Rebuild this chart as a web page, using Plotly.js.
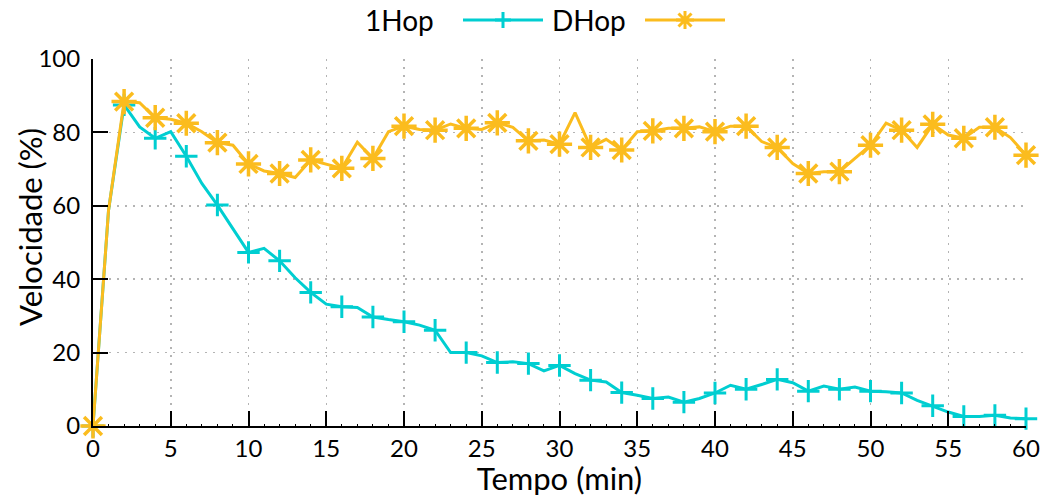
<!DOCTYPE html>
<html>
<head>
<meta charset="utf-8">
<script src="https://cdn.plot.ly/plotly-3.0.1.min.js"></script>
<style>html,body{margin:0;padding:0;background:#fff;}</style>
</head>
<body>
<div id="chart" style="width:1043px;height:497px;"></div>
<script>
// Time in minutes
const minutes = [0,1,2,3,4,5,6,7,8,9,10,11,12,13,14,15,16,17,18,19,20,21,22,23,24,25,26,27,28,29,30,31,32,33,34,35,36,37,38,39,40,41,42,43,44,45,46,47,48,49,50,51,52,53,54,55,56,57,58,59,60];
// 1Hop velocity (%)
const hop1 = [0,58.8,87.5,81.5,78.4,80.2,73.5,66.1,60.2,53.8,47.3,48.4,45.0,40.4,36.4,33.2,32.5,32.3,29.7,29.0,28.4,27.5,26.1,20.0,20.0,19.1,17.3,17.5,17.0,15.0,16.5,14.3,12.5,12.0,9.1,8.4,7.5,7.9,6.5,7.5,9.0,11.1,10.0,11.3,12.7,11.8,9.5,10.9,10.0,10.6,9.5,9.3,9.0,7.0,5.5,3.8,2.6,2.6,2.9,2.2,2.0];
// DHop velocity (%)
const dhop = [0,58.8,88.4,88.1,84.0,83.6,82.5,80.2,77.2,76.5,71.4,69.5,68.8,67.7,72.5,71.3,70.2,77.3,72.9,80.2,81.7,80.8,80.6,82.3,81.1,80.8,82.6,81.4,77.7,77.9,76.8,85.4,75.9,78.1,75.2,80.2,80.4,81.1,81.1,81.5,80.2,81.7,81.7,77.5,75.9,71.5,68.8,69.3,69.3,72.9,76.5,82.5,80.6,75.9,82.2,79.3,78.4,81.4,81.4,78.6,73.8];
const seriesNames = ["1Hop", "DHop"];
const xTicks = [0,5,10,15,20,25,30,35,40,45,50,55,60];
const yTicks = [0,20,40,60,80,100];
const xTitle = "Tempo (min)";
const yTitle = "Velocidade (%)";

const cyan = "#00CED1";
const gold = "#FBBC1E";
const FONT = "Lato, 'Open Sans', sans-serif";

// markers are drawn on every second sample only
const markedX = minutes.filter((m, i) => i % 2 === 0);
const markedHop1 = hop1.filter((v, i) => i % 2 === 0);
const markedDhop = dhop.filter((v, i) => i % 2 === 0);

const traces = [
  {x: minutes, y: hop1, name: seriesNames[0], type: "scatter", mode: "lines",
   line: {color: cyan, width: 3}, showlegend: false},
  {x: markedX, y: markedHop1, name: seriesNames[0], type: "scatter", mode: "markers",
   marker: {symbol: "cross-thin-open", size: 16, color: cyan, opacity: 1, line: {color: cyan, width: 3}},
   cliponaxis: false, showlegend: false},
  {x: minutes, y: dhop, name: seriesNames[1], type: "scatter", mode: "lines",
   line: {color: gold, width: 3}, showlegend: false},
  {x: markedX, y: markedDhop, name: seriesNames[1], type: "scatter", mode: "markers",
   marker: {symbol: "asterisk-open", size: 21, color: gold, opacity: 1, line: {color: gold, width: 3.5}},
   cliponaxis: false, showlegend: false}
];

// Plot area in pixels
const L = 93, R = 1026, T = 59, B = 426;
const px = v => (v - L) / (R - L);
const py = v => (B - v) / (B - T);

const legY = 20;
const shapes = [
  {type: "line", xref: "paper", yref: "paper", x0: px(463), x1: px(543), y0: py(legY), y1: py(legY), line: {color: cyan, width: 3}},
  {type: "path", xref: "paper", yref: "paper", xsizemode: "pixel", ysizemode: "pixel", xanchor: px(503), yanchor: py(legY),
   path: "M-8,0H8M0,-8V8", line: {color: cyan, width: 3}},
  {type: "line", xref: "paper", yref: "paper", x0: px(645), x1: px(725), y0: py(legY), y1: py(legY), line: {color: gold, width: 3}},
  {type: "path", xref: "paper", yref: "paper", xsizemode: "pixel", ysizemode: "pixel", xanchor: px(685), yanchor: py(legY),
   path: "M-9,0H9M0,-9V9M-6.5,-6.5L6.5,6.5M-6.5,6.5L6.5,-6.5", line: {color: gold, width: 3}}
];

const annotations = [
  {text: seriesNames[0], xref: "paper", yref: "paper", x: px(436), y: py(legY), xanchor: "right", yanchor: "middle", showarrow: false,
   font: {family: FONT, size: 28, color: "#000"}},
  {text: seriesNames[1], xref: "paper", yref: "paper", x: px(628), y: py(legY), xanchor: "right", yanchor: "middle", showarrow: false,
   font: {family: FONT, size: 28, color: "#000"}},
  {text: yTitle, xref: "paper", yref: "paper", x: px(30), y: py(227), xanchor: "center", yanchor: "middle", showarrow: false,
   textangle: -90, font: {family: FONT, size: 31, color: "#000"}}
];

const gridStyle = {showgrid: true, gridcolor: "#b4b4b4", griddash: "1.5px,6.5px", gridwidth: 1.5};

const layout = {
  width: 1043, height: 497,
  margin: {l: L, r: 1043 - R, t: T, b: 497 - B},
  paper_bgcolor: "#fff", plot_bgcolor: "#fff",
  font: {family: FONT, size: 24, color: "#000"},
  showlegend: false,
  xaxis: Object.assign({
    range: [0, 60], tickvals: xTicks, ticktext: xTicks.map(String),
    ticks: "inside", ticklen: 15, tickwidth: 2, tickcolor: "#000",
    showline: true, linecolor: "#000", linewidth: 2, mirror: false,
    zeroline: false, tickfont: {family: FONT, size: 24, color: "#000"},
    ticklabelstandoff: 0,
    minor: {dtick: 1, ticks: "inside", ticklen: 2, tickwidth: 1, tickcolor: "#000", showgrid: false},
    title: {text: xTitle, font: {family: FONT, size: 31, color: "#000"}, standoff: 3},
    fixedrange: true
  }, gridStyle),
  yaxis: Object.assign({
    range: [0, 100], tickvals: yTicks, ticktext: yTicks.map(String),
    ticks: "inside", ticklen: 15, tickwidth: 2, tickcolor: "#000",
    showline: true, linecolor: "#000", linewidth: 2, mirror: false,
    zeroline: false, tickfont: {family: FONT, size: 24, color: "#000"},
    ticklabelstandoff: 6,
    fixedrange: true
  }, gridStyle),
  shapes: shapes,
  annotations: annotations
};

Plotly.newPlot("chart", traces, layout, {displayModeBar: false, staticPlot: true});
</script>
</body>
</html>
